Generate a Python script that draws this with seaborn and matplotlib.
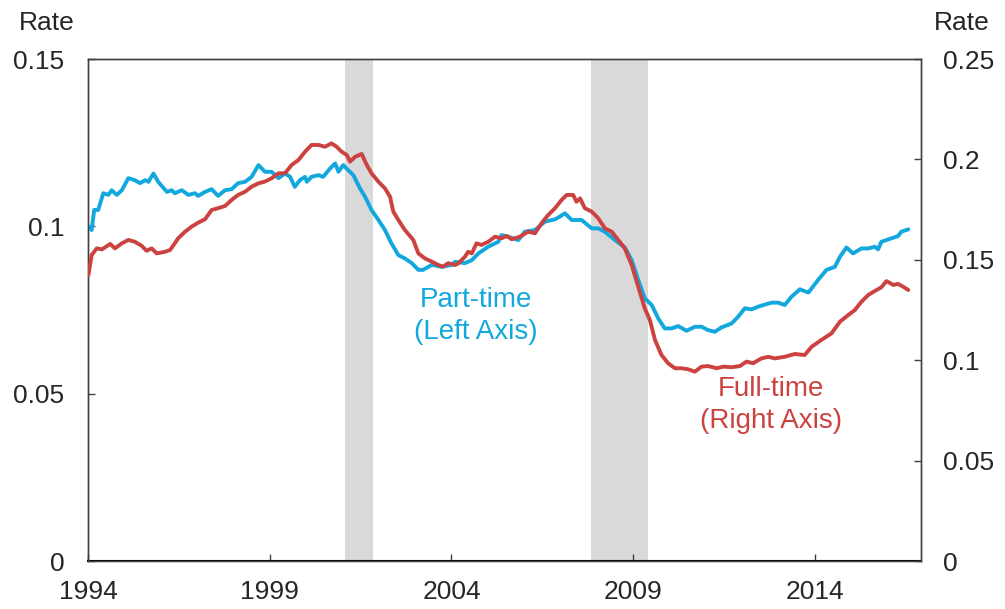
import numpy as np
import pandas as pd
import matplotlib
matplotlib.use("Agg")
import matplotlib.pyplot as plt
import seaborn as sns

# Part-time rate (left axis)
pt_year = [1994.01, 1994.10, 1994.17, 1994.28, 1994.42, 1994.56, 1994.65, 1994.79, 1994.93,
           1995.11, 1995.29, 1995.43, 1995.57, 1995.66, 1995.80, 1995.93, 1996.17, 1996.30,
           1996.39, 1996.58, 1996.76, 1996.94, 1997.03, 1997.22, 1997.40, 1997.58, 1997.77,
           1997.95, 1998.13, 1998.32, 1998.50, 1998.69, 1998.87, 1999.05, 1999.24, 1999.42,
           1999.56, 1999.69, 1999.83, 1999.97, 2000.02, 2000.15, 2000.34, 2000.47, 2000.66,
           2000.80, 2000.89, 2001.02, 2001.16, 2001.30, 2001.48, 2001.62, 2001.80, 2001.99,
           2002.17, 2002.35, 2002.54, 2002.72, 2002.91, 2003.09, 2003.22, 2003.46, 2003.73,
           2004.01, 2004.10, 2004.37, 2004.56, 2004.74, 2005.01, 2005.29, 2005.38, 2005.56,
           2005.84, 2006.02, 2006.30, 2006.57, 2006.85, 2006.98, 2007.12, 2007.31, 2007.58,
           2007.86, 2008.04, 2008.22, 2008.50, 2008.77, 2008.96, 2009.14, 2009.32, 2009.51,
           2009.69, 2009.87, 2010.06, 2010.24, 2010.47, 2010.70, 2010.88, 2011.06, 2011.25,
           2011.43, 2011.71, 2011.89, 2012.07, 2012.26, 2012.44, 2012.62, 2012.81, 2012.99,
           2013.17, 2013.36, 2013.59, 2013.82, 2014.09, 2014.32, 2014.55, 2014.69, 2014.87,
           2015.05, 2015.28, 2015.47, 2015.65, 2015.74, 2015.83, 2016.02, 2016.29, 2016.38,
           2016.57]
pt_rate = [0.0999, 0.0989, 0.1049, 0.1049, 0.1099, 0.1094, 0.1108, 0.1094, 0.1108,
           0.1144, 0.1138, 0.1129, 0.1138, 0.1133, 0.1158, 0.1133, 0.1103, 0.1108,
           0.1099, 0.1108, 0.1094, 0.1099, 0.1091, 0.1103, 0.1111, 0.1091, 0.1108,
           0.1111, 0.1129, 0.1133, 0.1148, 0.1183, 0.1163, 0.1163, 0.1144, 0.1158,
           0.1148, 0.1118, 0.1138, 0.1148, 0.1133, 0.1148, 0.1153, 0.1148, 0.1173,
           0.1188, 0.1163, 0.1183, 0.1168, 0.1153, 0.1114, 0.1089, 0.1049, 0.1019,
           0.0989, 0.0949, 0.0914, 0.0904, 0.0890, 0.0870, 0.0870, 0.0885, 0.0879,
           0.0885, 0.0894, 0.0890, 0.0899, 0.0919, 0.0939, 0.0954, 0.0974, 0.0969,
           0.0959, 0.0984, 0.0989, 0.1014, 0.1021, 0.1029, 0.1039, 0.1019, 0.1019,
           0.0994, 0.0994, 0.0984, 0.0959, 0.0937, 0.0899, 0.0840, 0.0785, 0.0765,
           0.0725, 0.0695, 0.0695, 0.0702, 0.0688, 0.0700, 0.0700, 0.0690, 0.0685,
           0.0698, 0.0710, 0.0730, 0.0755, 0.0752, 0.0760, 0.0766, 0.0772, 0.0772,
           0.0765, 0.0790, 0.0812, 0.0802, 0.0840, 0.0870, 0.0879, 0.0909, 0.0937,
           0.0919, 0.0934, 0.0934, 0.0939, 0.0931, 0.0954, 0.0961, 0.0971, 0.0984,
           0.0991]

# Full-time rate (right axis)
ft_year = [1994.01, 1994.10, 1994.24, 1994.38, 1994.61, 1994.74, 1994.93, 1995.11, 1995.29,
           1995.48, 1995.61, 1995.75, 1995.89, 1996.12, 1996.26, 1996.48, 1996.67, 1996.85,
           1997.03, 1997.22, 1997.40, 1997.58, 1997.77, 1997.95, 1998.13, 1998.32, 1998.50,
           1998.69, 1998.87, 1999.05, 1999.24, 1999.42, 1999.60, 1999.79, 1999.97, 2000.15,
           2000.34, 2000.52, 2000.70, 2000.84, 2000.98, 2001.12, 2001.21, 2001.35, 2001.53,
           2001.67, 2001.80, 2001.99, 2002.17, 2002.31, 2002.40, 2002.54, 2002.72, 2002.95,
           2003.09, 2003.27, 2003.46, 2003.64, 2003.77, 2003.91, 2004.10, 2004.19, 2004.37,
           2004.46, 2004.56, 2004.69, 2004.83, 2005.01, 2005.20, 2005.38, 2005.52, 2005.66,
           2005.88, 2006.11, 2006.30, 2006.48, 2006.66, 2006.85, 2007.03, 2007.17, 2007.35,
           2007.44, 2007.54, 2007.67, 2007.86, 2008.04, 2008.22, 2008.41, 2008.59, 2008.77,
           2008.96, 2009.14, 2009.32, 2009.46, 2009.60, 2009.78, 2009.96, 2010.15, 2010.33,
           2010.51, 2010.70, 2010.88, 2011.06, 2011.30, 2011.48, 2011.71, 2011.94, 2012.12,
           2012.30, 2012.53, 2012.72, 2012.90, 2013.17, 2013.45, 2013.72, 2013.91, 2014.18,
           2014.46, 2014.69, 2014.92, 2015.10, 2015.28, 2015.47, 2015.70, 2015.83, 2015.97,
           2016.16, 2016.29, 2016.43, 2016.57]
ft_rate = [0.1424, 0.1524, 0.1557, 0.1552, 0.1579, 0.1557, 0.1582, 0.1599, 0.1590,
           0.1569, 0.1545, 0.1557, 0.1532, 0.1540, 0.1549, 0.1607, 0.1640, 0.1665,
           0.1685, 0.1702, 0.1748, 0.1757, 0.1768, 0.1798, 0.1823, 0.1839, 0.1864,
           0.1881, 0.1890, 0.1906, 0.1931, 0.1931, 0.1972, 0.1997, 0.2038, 0.2072,
           0.2072, 0.2063, 0.2080, 0.2063, 0.2038, 0.2022, 0.1989, 0.2013, 0.2027,
           0.1972, 0.1931, 0.1889, 0.1856, 0.1814, 0.1740, 0.1698, 0.1648, 0.1599,
           0.1532, 0.1507, 0.1491, 0.1474, 0.1466, 0.1483, 0.1474, 0.1483, 0.1515,
           0.1540, 0.1532, 0.1582, 0.1574, 0.1590, 0.1615, 0.1607, 0.1619, 0.1602,
           0.1615, 0.1640, 0.1632, 0.1682, 0.1723, 0.1757, 0.1798, 0.1823, 0.1823,
           0.1789, 0.1806, 0.1757, 0.1740, 0.1707, 0.1657, 0.1640, 0.1599, 0.1557,
           0.1474, 0.1366, 0.1258, 0.1200, 0.1101, 0.1026, 0.0985, 0.0960, 0.0960,
           0.0955, 0.0943, 0.0968, 0.0971, 0.0960, 0.0968, 0.0965, 0.0971, 0.0993,
           0.0985, 0.1009, 0.1017, 0.1009, 0.1017, 0.1031, 0.1026, 0.1067, 0.1101,
           0.1134, 0.1192, 0.1225, 0.1250, 0.1291, 0.1325, 0.1350, 0.1363, 0.1394,
           0.1375, 0.1380, 0.1366, 0.1350]

recessions = [(2001.07, 2001.84), (2007.84, 2009.41)]

year_ticks = [1994, 1999, 2004, 2009, 2014]
left_ticks = [0, 0.05, 0.1, 0.15]
left_labels = ["0", "0.05", "0.1", "0.15"]
right_ticks = [0, 0.05, 0.1, 0.15, 0.2, 0.25]
right_labels = ["0", "0.05", "0.1", "0.15", "0.2", "0.25"]

blue = "#12A8DE"
red = "#CC4240"

sns.set_style("white")
plt.rcParams["font.family"] = ["Liberation Sans", "DejaVu Sans"]

pt = pd.DataFrame({"year": pt_year, "rate": pt_rate})
ft = pd.DataFrame({"year": ft_year, "rate": ft_rate})

fig = plt.figure(figsize=(10.05, 6.09), dpi=100)
ax = fig.add_axes([0.0876, 0.0788, 0.8288, 0.8243])
ax2 = ax.twinx()

for a, b in recessions:
    ax.axvspan(a, b, color="#D9D9D9", lw=0, zorder=0)

sns.lineplot(data=pt, x="year", y="rate", ax=ax, color=blue, lw=2.8, zorder=3)
sns.lineplot(data=ft, x="year", y="rate", ax=ax2, color=red, lw=2.8, zorder=3)

ax.set_xlim(1994, 2016.92)
ax.set_ylim(0, 0.15)
ax2.set_ylim(0, 0.25)

ax.set_xticks(year_ticks)
ax.set_xticklabels([str(y) for y in year_ticks])
ax.set_yticks(left_ticks)
ax.set_yticklabels(left_labels)
ax2.set_yticks(right_ticks)
ax2.set_yticklabels(right_labels)

for a in (ax, ax2):
    a.set_xlabel("")
    a.set_ylabel("")
    for s in a.spines.values():
        s.set_color("#404040")
        s.set_linewidth(1.0)
ax.spines["bottom"].set_color("black")
ax.spines["bottom"].set_linewidth(1.5)

ax.tick_params(axis="x", direction="in", length=5, width=1, color="#404040",
               labelsize=19, pad=14, bottom=True)
ax.tick_params(axis="y", direction="in", length=5, width=1, color="#404040",
               labelsize=19, pad=17, left=True)
ax2.tick_params(axis="y", direction="in", length=5, width=1, color="#404040",
                labelsize=19, pad=16, right=True)

ax.text(2004.67, 0.0732, "Part-time\n(Left Axis)", color=blue, fontsize=20,
        ha="center", va="center", linespacing=1.3)
ax2.text(2012.8, 0.0777, "Full-time\n(Right Axis)", color=red, fontsize=20,
         ha="center", va="center", linespacing=1.3)

fig.text(0.047, 0.963, "Rate", fontsize=19, ha="center", va="center")
fig.text(0.957, 0.963, "Rate", fontsize=19, ha="center", va="center")

fig.savefig("out.png", dpi=100)
